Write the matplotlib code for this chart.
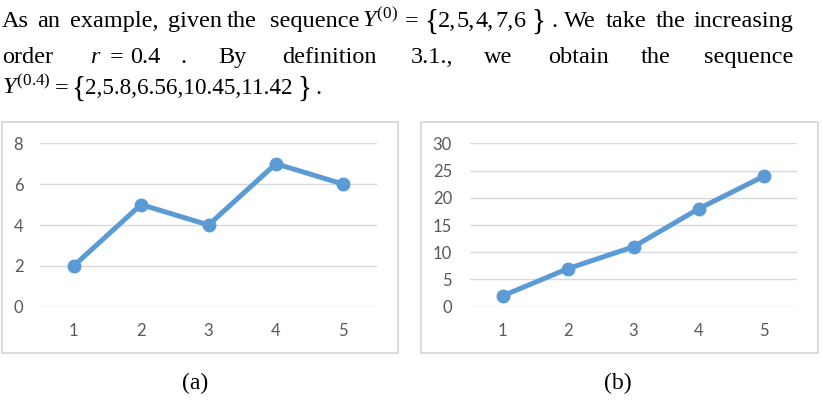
import matplotlib
matplotlib.use("Agg")
import matplotlib.pyplot as plt
from matplotlib.patches import Rectangle

# ---------------- data ----------------
categories = [1, 2, 3, 4, 5]
series_a = [2, 5, 4, 7, 6]
series_b = [2, 7, 11, 18, 24]
yticks_a = [0, 2, 4, 6, 8]
yticks_b = [0, 5, 10, 15, 20, 25, 30]
captions = ["(a)", "(b)"]

W, H = 823, 408
DPI = 100
plt.rcParams['mathtext.fontset'] = 'custom'
plt.rcParams['mathtext.rm'] = 'Liberation Serif'
plt.rcParams['mathtext.it'] = 'Liberation Serif:italic'
plt.rcParams['mathtext.bf'] = 'Liberation Serif:bold'

fig = plt.figure(figsize=(W / DPI, H / DPI), dpi=DPI)
fig.patch.set_facecolor('white')

SERIF = 'Liberation Serif'
TFS = 17.5


def px_text(x, y, s, fs=TFS, **kw):
    fig.text(x / W, 1 - y / H, s, fontsize=fs, family=SERIF,
             ha=kw.pop('ha', 'left'), va=kw.pop('va', 'baseline'),
             color='black', **kw)


# paragraph (justified words placed individually)
line1 = [(2, "As"), (37, "an"), (70, "example,"), (168, "given"), (227, "the"),
         (270, "sequence"), (362, r"$Y^{(0)}$"), (405, "="),
         (438, "2,"), (457, "5,"), (476, "4,"), (495, "7,"), (514, "6"),
         (551, "."), (564, "We"), (606, "take"), (656, "the"), (694, "increasing")]
for x, s in line1:
    px_text(x, 27, s)
px_text(424, 29, "{", fs=TFS * 1.2)
px_text(531, 29, "}", fs=TFS * 1.2)

line2 = [(2, "order"), (90, r"$r$"), (110, "="), (130, "0.4"), (180, "."),
         (218, "By"), (282, "definition"), (411, "3.1.,"), (484, "we"),
         (548, "obtain"), (641, "the"), (704, "sequence")]
for x, s in line2:
    px_text(x, 63, s)

line3 = [(2, r"$Y^{(0.4)}$"), (55, "="), (315, ".")]
for x, s in line3:
    px_text(x, 94, s)
px_text(85, 94, "2,5.8,6.56,10.45,11.42", fs=16.7)
px_text(71, 96, "{", fs=TFS * 1.2)
px_text(297, 96, "}", fs=TFS * 1.2)

# chart boxes
for (x0, x1) in [(2, 398), (421, 818)]:
    fig.patches.append(Rectangle((x0 / W, 1 - 353 / H), (x1 - x0) / W, (353 - 122) / H,
                                 transform=fig.transFigure, fill=False,
                                 edgecolor='#D9D9D9', linewidth=1.3))

LINE_C = '#5B9BD5'
GRID_C = '#D9D9D9'
LAB_C = '#595959'


def make_chart(left, right, yvals, yticks, label_pad):
    top, bottom = 143.3, 306.7
    ax = fig.add_axes([left / W, 1 - bottom / H, (right - left) / W, (bottom - top) / H])
    ax.plot(categories, yvals, color=LINE_C, lw=3.6, marker='o', ms=9,
            solid_capstyle='round', solid_joinstyle='round', zorder=3, clip_on=False)
    ax.set_xlim(0.5, 5.5)
    ax.set_ylim(yticks[0], yticks[-1])
    ax.set_yticks(yticks)
    ax.set_xticks(categories)
    ax.grid(axis='y', color=GRID_C, lw=1.0)
    ax.grid(axis='x', visible=False)
    for sp in ax.spines.values():
        sp.set_visible(False)
    ax.tick_params(length=0, labelcolor=LAB_C, labelsize=12)
    ax.tick_params(axis='y', pad=label_pad)
    ax.tick_params(axis='x', pad=12)
    for lab in ax.get_xticklabels() + ax.get_yticklabels():
        lab.set_family('Lato')
    ax.set_facecolor('none')
    return ax


make_chart(40, 377, series_a, yticks_a, 12)
make_chart(470, 797, series_b, yticks_b, 13)

px_text(195, 383, captions[0], fs=17, ha='center', va='center')
px_text(618, 383, captions[1], fs=17, ha='center', va='center')

fig.savefig('out.png', dpi=DPI)
